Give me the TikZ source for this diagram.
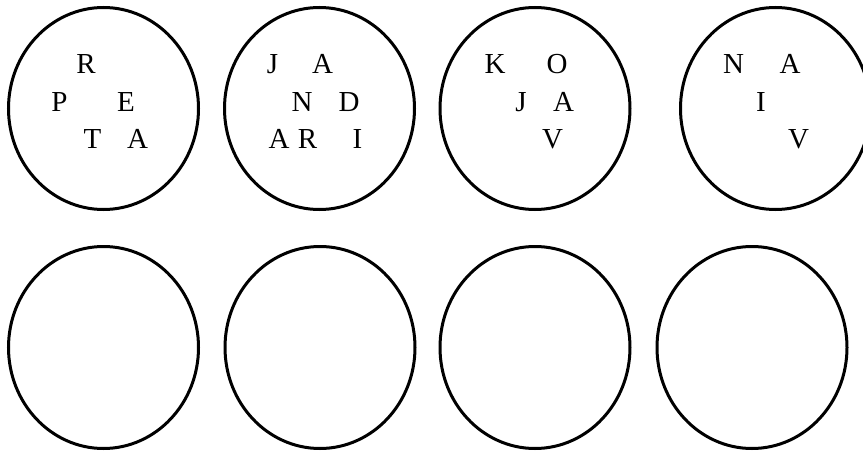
\documentclass[tikz,border=0pt]{standalone}
\usepackage{fontspec}
\setmainfont{Liberation Serif}
\usetikzlibrary{shapes.geometric}
\begin{document}
\begin{tikzpicture}[x=1pt,y=-1pt,
  ring/.style={draw=black, line width=3pt, ellipse, inner sep=0pt,
    minimum width=190pt, minimum height=202pt},
  letter/.style={anchor=base, inner sep=0pt, font=\fontsize{29}{34}\selectfont}]
\useasboundingbox (0,0) rectangle (863,452);
% top row
\node[ring] (t1) at (103.5,108.5) {};
\node[ring] (t2) at (319.5,108.5) {};
\node[ring] (t3) at (535,108.5) {};
\node[ring] (t4) at (775.5,108.5) {};
% bottom row
\node[ring] (b1) at (103.5,347.5) {};
\node[ring] (b2) at (320,347.5) {};
\node[ring] (b3) at (535,347.5) {};
\node[ring] (b4) at (752,347.5) {};
% circle 1
\node[letter] (c1r) at (86,74) {R};
\node[letter] (c1p) at (59.5,111) {P};
\node[letter] (c1e) at (126,111) {E};
\node[letter] (c1t) at (92.5,149) {T};
\node[letter] (c1a) at (137.5,149) {A};
% circle 2
\node[letter] (c2j) at (272.5,74) {J};
\node[letter] (c2a) at (322.5,74) {A};
\node[letter] (c2n) at (302,111) {N};
\node[letter] (c2d) at (349,111) {D};
\node[letter] (c2a2) at (279,149) {A};
\node[letter] (c2r) at (307.5,149) {R};
\node[letter] (c2i) at (357.5,149) {I};
% circle 3
\node[letter] (c3k) at (495,74) {K};
\node[letter] (c3o) at (557,74) {O};
\node[letter] (c3j) at (521,111) {J};
\node[letter] (c3a) at (563.5,111) {A};
\node[letter] (c3v) at (552.5,149) {V};
% circle 4
\node[letter] (c4n) at (733.5,74) {N};
\node[letter] (c4a) at (790,74) {A};
\node[letter] (c4i) at (761,111) {I};
\node[letter] (c4v) at (798.5,149) {V};
\end{tikzpicture}
\end{document}
